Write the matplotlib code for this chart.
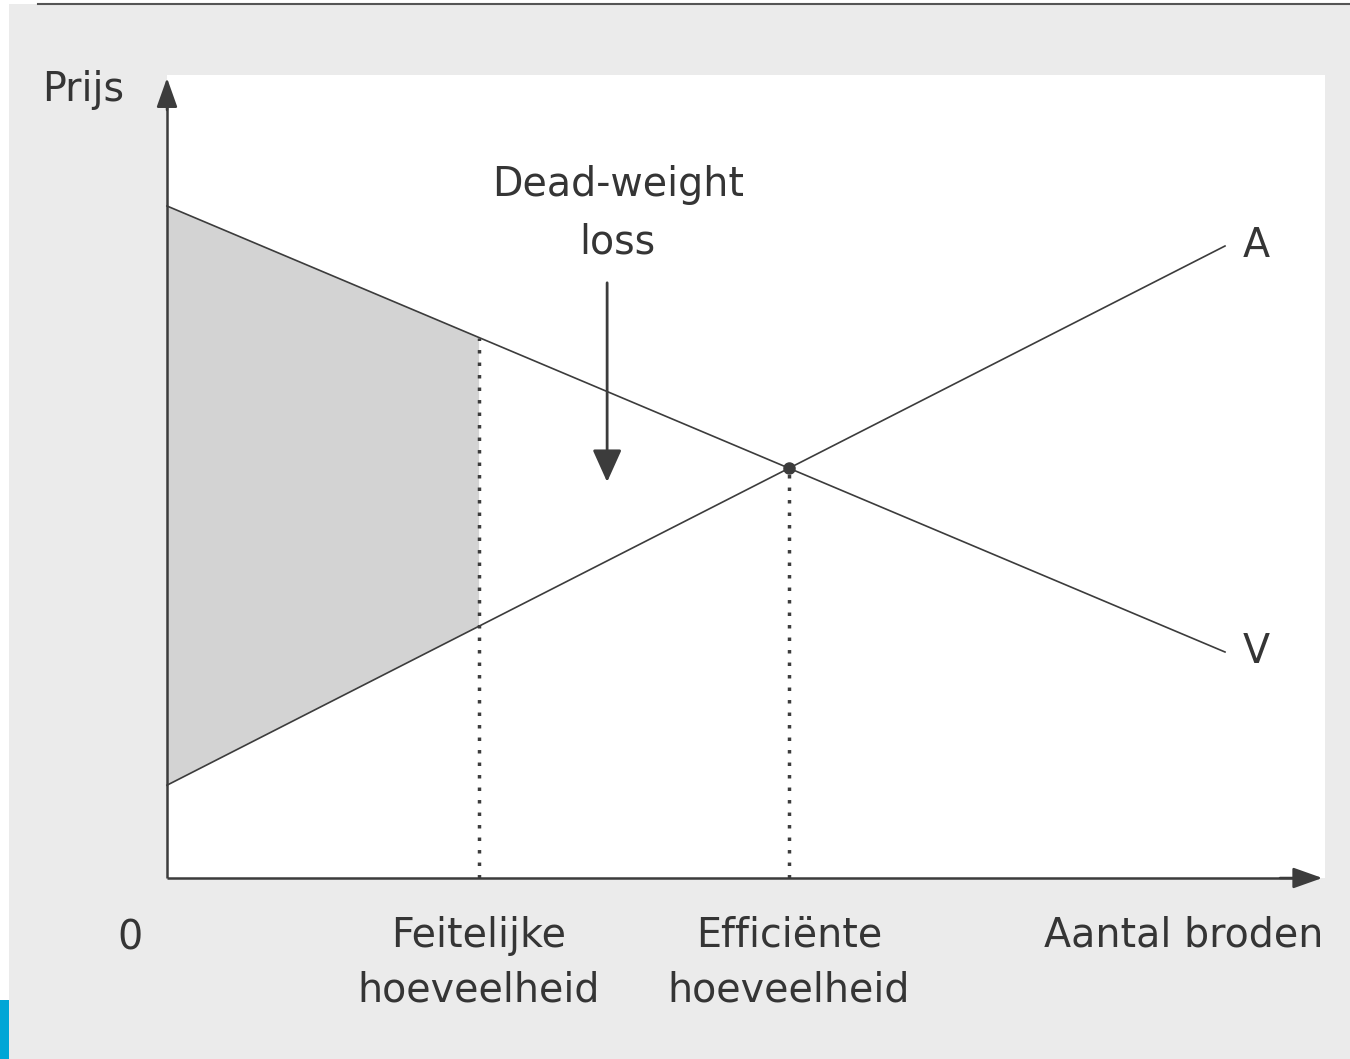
import numpy as np
import matplotlib
matplotlib.use("Agg")
import matplotlib.pyplot as plt
from matplotlib.patches import Rectangle, Polygon

# data (quantity units, price units)
q_ends = [0, 100]
p_demand = [84.0, 28.25]   # V
p_supply = [11.6, 79.0]    # A
q_actual = 29.5            # Feitelijke hoeveelheid
x_axis_end = 109.2
y_axis_end = 100.0
panel_w, panel_h = 109.45, 100.4

labels_q = ["Feitelijke\nhoeveelheid", "Efficiënte\nhoeveelheid"]

# pixels per unit
SX, SY = 10.58, 8.0
W, H = 1350, 1059
OX, OY = 167, 878

ink = "#3c3c3c"
txt = "#353535"

plt.rcParams["font.family"] = ["DejaVu Sans"]

fig = plt.figure(figsize=(W / 100, H / 100), dpi=100)
fig.patch.set_facecolor("white")

# scanned page background
fig.patches.append(Rectangle((9 / W, 0), 1 - 9 / W, 1 - 4 / H, transform=fig.transFigure,
                             facecolor="#ebebeb", edgecolor="none", zorder=-10))
fig.patches.append(Rectangle((0, 0), 9 / W, 59 / H, transform=fig.transFigure,
                             facecolor="#00a6d6", edgecolor="none", zorder=-10))
fig.lines.append(plt.Line2D([38 / W, 1], [1 - 4 / H, 1 - 4 / H], transform=fig.transFigure,
                            color="#555555", lw=1.5, zorder=-9))

ax = fig.add_axes([0, 0, 1, 1])
ax.set_xlim(-OX / SX, (W - OX) / SX)
ax.set_ylim(-(H - OY) / SY, OY / SY)
ax.axis("off")
ax.patch.set_alpha(0)

ax.add_patch(Rectangle((0, 0), panel_w, panel_h, facecolor="white", edgecolor="none", zorder=0))

slope_d = (p_demand[1] - p_demand[0]) / (q_ends[1] - q_ends[0])
slope_s = (p_supply[1] - p_supply[0]) / (q_ends[1] - q_ends[0])
q_eff = (p_supply[0] - p_demand[0]) / (slope_d - slope_s)
p_eff = p_demand[0] + slope_d * q_eff
p_d_act = p_demand[0] + slope_d * q_actual
p_s_act = p_supply[0] + slope_s * q_actual

# shaded area
ax.add_patch(Polygon([(0, p_demand[0]), (q_actual, p_d_act), (q_actual, p_s_act), (0, p_supply[0])],
                     closed=True, facecolor="#d3d3d3", edgecolor="none", zorder=1))

ax.plot(q_ends, p_demand, color=ink, lw=1.2, zorder=3)
ax.plot(q_ends, p_supply, color=ink, lw=1.2, zorder=3)

ax.plot([q_actual, q_actual], [0, p_d_act], color=ink, lw=2.5, ls=(0, (1, 2.6)), zorder=2)
ax.plot([q_eff, q_eff], [0, p_eff], color=ink, lw=2.5, ls=(0, (1, 2.6)), zorder=2)
ax.plot([q_eff], [p_eff], "o", color=ink, ms=8, zorder=4)

# axes with arrows
ax.plot([0, 0], [0, y_axis_end - 2], color=ink, lw=1.8, zorder=5, solid_capstyle="butt")
ax.plot([0, x_axis_end - 2], [0, 0], color=ink, lw=1.8, zorder=5, solid_capstyle="butt")
ax.annotate("", xy=(0, y_axis_end), xytext=(0, y_axis_end - 4),
            arrowprops=dict(arrowstyle="-|>,head_length=0.9,head_width=0.32", mutation_scale=20,
                            color=ink, lw=1.8, shrinkA=0, shrinkB=0), zorder=6)
ax.annotate("", xy=(x_axis_end, 0), xytext=(x_axis_end - 4, 0),
            arrowprops=dict(arrowstyle="-|>,head_length=0.9,head_width=0.32", mutation_scale=20,
                            color=ink, lw=1.8, shrinkA=0, shrinkB=0), zorder=6)

# dead-weight loss arrow
ax.annotate("", xy=(41.6, 49.5), xytext=(41.6, 74.4),
            arrowprops=dict(arrowstyle="-|>,head_length=1.0,head_width=0.45", mutation_scale=20,
                            color=ink, lw=2.0, shrinkA=0, shrinkB=0), zorder=6)

fs = 28.5
ax.text(-7.9, 98.5, "Prijs", fontsize=fs, color=txt, ha="center", va="center")
ax.text(-3.5, -7.5, "0", fontsize=fs, color=txt, ha="center", va="center")
for q, lab in zip([q_actual, q_eff], labels_q):
    top, bottom = lab.split("\n")
    ax.text(q, -7.2, top, fontsize=fs, color=txt, ha="center", va="center")
    ax.text(q, -14.0, bottom, fontsize=fs, color=txt, ha="center", va="center")
ax.text(109.3, -7.2, "Aantal broden", fontsize=fs, color=txt, ha="right", va="center")
ax.text(42.6, 86.6, "Dead-weight", fontsize=fs, color=txt, ha="center", va="center")
ax.text(42.6, 79.5, "loss", fontsize=fs, color=txt, ha="center", va="center")
ax.text(103.0, 79.0, "A", fontsize=fs, color=txt, ha="center", va="center")
ax.text(103.0, 28.25, "V", fontsize=fs, color=txt, ha="center", va="center")

fig.savefig("out.png", dpi=100)
